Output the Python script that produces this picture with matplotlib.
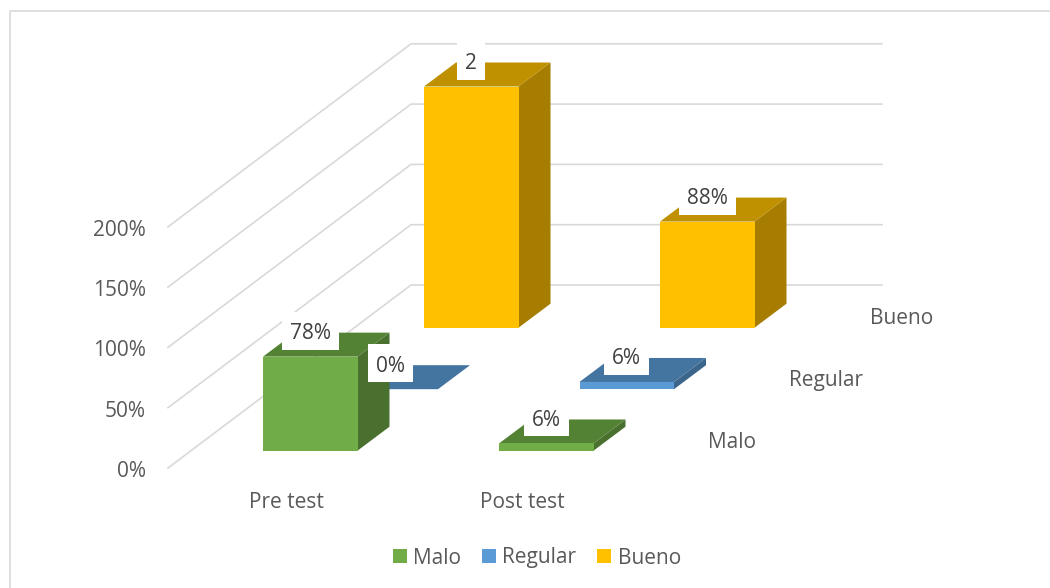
import matplotlib
matplotlib.use('Agg')
import matplotlib.pyplot as plt
from matplotlib.patches import Polygon, Patch, Rectangle

plt.rcParams['font.family'] = ['Open Sans', 'DejaVu Sans']

categories = ['Pre test', 'Post test']
series = ['Malo', 'Regular', 'Bueno']
malo = [0.78, 0.06]
regular = [0.0, 0.06]
bueno = [2.0, 0.88]
malo_labels = ['78%', '6%']
regular_labels = ['0%', '6%']
bueno_labels = ['2', '88%']
ticks = [0, 0.5, 1.0, 1.5, 2.0]
tick_labels = ['0%', '50%', '100%', '150%', '200%']

colors = ['#70AD47', '#5B9BD5', '#FFC000']
values = [malo, regular, bueno]
labels = [malo_labels, regular_labels, bueno_labels]

# oblique projection, everything below is in image pixels
x0, y0 = 263, 450.7     # front left corner of first bar
cat_dx = 236
ser_dx, ser_dy = 80.5, -61.5
bar_w = 94.5
dep_dx, dep_dy = 32, -24
px_per_unit = 120.6
wall_x0, wall_y0 = 168, 468
wall_x1, wall_y1 = 411, 285
wall_end = 882
text_col = '#595959'
label_col = '#404040'
font_size = 15


def shade(c, f):
    rgb = matplotlib.colors.to_rgb(c)
    return tuple(v * f for v in rgb)


fig = plt.figure(figsize=(10.5, 5.88), dpi=100)
ax = fig.add_axes([0, 0, 1, 1])
ax.set_xlim(0, 1050)
ax.set_ylim(588, 0)
ax.axis('off')

# chart frame, only top and left show in the picture
ax.plot([10, 10, 1050], [588, 10.5, 10.5], color='#d9d9d9', lw=1.2, zorder=1)

# walls
for t, tl in zip(ticks, tick_labels):
    h = t * px_per_unit
    ax.plot([wall_x0, wall_x1, wall_end], [wall_y0 - h, wall_y1 - h, wall_y1 - h],
            color='#d9d9d9', lw=1.2, zorder=1)
    ax.text(146, wall_y0 - h + 3.5, tl, ha='right', va='center', fontsize=font_size, color=text_col)

# bars, back row first
z = 2
for s in [2, 1, 0]:
    for c in [1, 0]:
        x = x0 + c * cat_dx + s * ser_dx
        y = y0 + s * ser_dy
        top = y - values[s][c] * px_per_unit
        base = colors[s]
        front = [(x, y), (x + bar_w, y), (x + bar_w, top), (x, top)]
        side = [(x + bar_w, y), (x + bar_w + dep_dx, y + dep_dy),
                (x + bar_w + dep_dx, top + dep_dy), (x + bar_w, top)]
        lid = [(x, top), (x + bar_w, top), (x + bar_w + dep_dx, top + dep_dy), (x + dep_dx, top + dep_dy)]
        ax.add_patch(Polygon(side, fc=shade(base, 0.65), ec='none', zorder=z))
        ax.add_patch(Polygon(lid, fc=shade(base, 0.75), ec='none', zorder=z))
        ax.add_patch(Polygon(front, fc=base, ec='none', zorder=z))
        z += 1

# data labels sit over all the bars, white box is text width + margin
renderer = fig.canvas.get_renderer()
for s in [2, 1, 0]:
    for c in [1, 0]:
        x = x0 + c * cat_dx + s * ser_dx
        y = y0 + s * ser_dy
        top = y - values[s][c] * px_per_unit
        cx = x + bar_w / 2
        t = ax.text(cx, top - 23, labels[s][c], ha='center', va='center', fontsize=font_size,
                    color=label_col, zorder=51)
        w = t.get_window_extent(renderer).width + 16
        ax.add_patch(Rectangle((cx - w / 2, top - 45), w, 38, fc='white', ec='none', zorder=50))

# category and series names
for c, name in enumerate(categories):
    ax.text(x0 + 23 + c * cat_dx, 502, name, ha='center', va='center', fontsize=font_size, color=text_col)
for s, name in enumerate(series):
    ax.text(708.5 + s * ser_dx, 442 + s * ser_dy, name, ha='left', va='center', fontsize=font_size, color=text_col)

handles = [Patch(fc=col, ec='none') for col in colors]
ax.legend(handles, series, ncol=3, loc='center', bbox_to_anchor=(537 / 1050, 1 - 558 / 588),
          frameon=False, fontsize=font_size, handlelength=0.67, handleheight=0.67,
          handletextpad=0.3, columnspacing=1.0, labelcolor=text_col)

fig.savefig('out.png', dpi=100)
